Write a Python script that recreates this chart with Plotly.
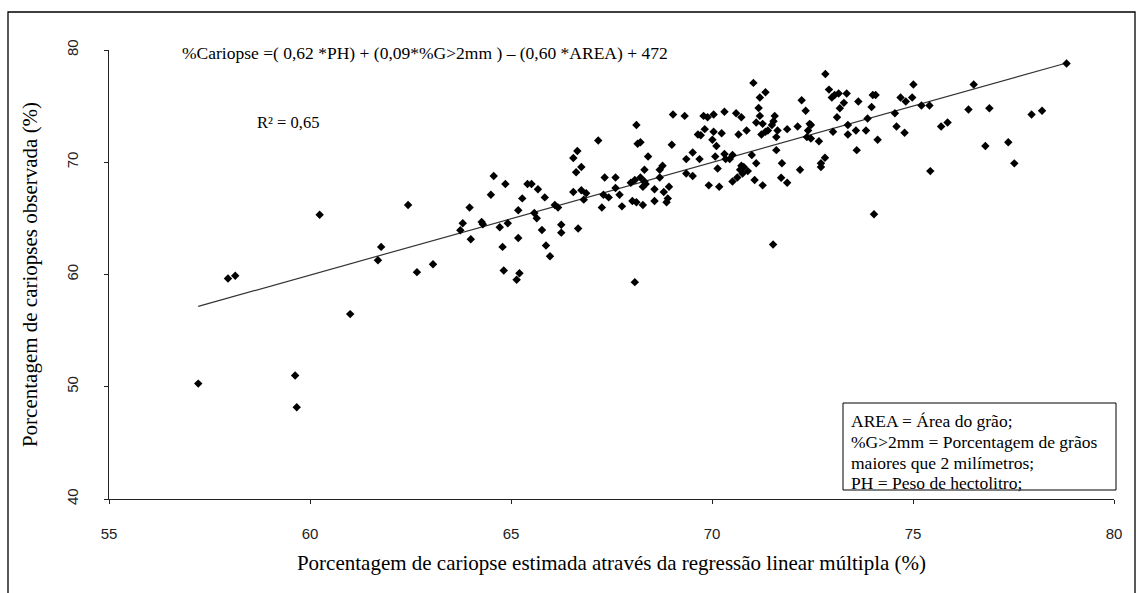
import plotly.graph_objects as go

# Estimated (x) vs observed (y) caryopsis percentage
x_est = [57.22, 57.96, 58.14, 59.63, 59.67, 60.24, 61.00, 61.69, 61.77, 62.44, 62.66, 63.06,
         63.74, 63.80, 63.97, 64.00, 64.27, 64.30, 64.50, 64.57, 64.72, 64.79, 64.82, 64.86,
         64.92, 65.14, 65.21, 65.18, 65.18, 65.28, 65.41, 65.51, 65.58, 65.64, 65.67, 65.77,
         65.84, 65.87, 65.97, 66.09, 66.17, 66.25, 66.25, 66.55, 66.55, 66.65, 66.62, 66.67,
         66.75, 66.75, 66.81, 66.87, 67.17, 67.26, 67.30, 67.33, 67.43, 67.60, 67.60, 67.70,
         67.76, 67.98, 68.02, 68.08, 68.12, 68.12, 68.15, 68.22, 68.22, 68.28, 68.28, 68.32,
         68.32, 68.35, 68.41, 68.08, 68.57, 68.57, 68.70, 68.70, 68.77, 68.80, 68.87, 68.90,
         68.93, 69.00, 69.03, 69.32, 69.36, 69.36, 69.52, 69.52, 69.65, 69.72, 69.69, 69.79,
         69.82, 69.89, 69.92, 70.01, 70.04, 70.04, 70.08, 70.11, 70.14, 70.18, 70.24, 70.31,
         70.31, 70.34, 70.44, 70.51, 70.51, 70.60, 70.63, 70.66, 70.70, 70.73, 70.73, 70.76,
         70.79, 70.86, 70.89, 70.99, 71.06, 71.10, 71.10, 71.03, 71.16, 71.19, 71.33, 71.19,
         71.23, 71.26, 71.26, 71.33, 71.39, 71.49, 71.53, 71.56, 71.60, 71.60, 71.52, 71.63,
         72.82, 72.91, 72.98, 73.05, 73.15, 73.35, 73.28, 73.18, 73.11, 72.23, 72.33, 72.43,
         72.46, 72.39, 72.36, 72.46, 72.66, 72.13, 71.87, 71.74, 71.72, 71.87, 72.19, 72.71,
         72.71, 72.81, 73.01, 73.38, 73.38, 73.58, 73.60, 73.64, 73.83, 73.87, 73.97, 74.00,
         74.07, 74.12, 74.03, 74.55, 74.59, 74.69, 74.79, 74.82, 74.98, 75.01, 75.21, 75.41,
         75.43, 75.70, 75.86, 76.38, 76.51, 76.80, 76.90, 77.37, 77.52, 77.95, 78.21, 78.82]
y_obs = [50.28, 59.64, 59.88, 51.00, 48.18, 65.33, 56.47, 61.27, 62.46, 66.19, 60.21, 60.92,
         63.94, 64.56, 65.96, 63.14, 64.68, 64.47, 67.11, 68.77, 64.21, 62.46, 60.36, 68.06,
         64.56, 59.53, 60.12, 63.26, 65.72, 66.78, 68.06, 68.06, 65.48, 65.01, 67.59, 63.97,
         66.87, 62.58, 61.63, 66.19, 65.96, 64.44, 63.73, 67.35, 70.37, 71.00, 69.10, 64.09,
         69.57, 67.50, 66.67, 67.23, 71.94, 65.96, 67.11, 68.65, 66.87, 67.71, 68.65, 67.11,
         66.07, 68.18, 66.55, 68.41, 73.31, 66.43, 71.64, 71.79, 68.65, 67.82, 66.19, 69.33,
         68.29, 68.06, 70.52, 59.32, 67.59, 66.55, 69.33, 68.65, 69.69, 67.35, 66.43, 66.78,
         67.82, 71.56, 74.25, 74.13, 70.28, 69.00, 70.87, 68.77, 72.47, 72.40, 70.28, 74.13,
         72.95, 74.01, 67.94, 72.00, 74.25, 72.71, 70.52, 71.44, 69.45, 67.82, 72.59, 74.49,
         70.73, 70.28, 70.28, 70.64, 68.29, 74.37, 68.65, 72.47, 69.33, 74.01, 69.69, 69.00,
         69.57, 72.83, 69.21, 70.64, 68.41, 73.54, 69.92, 77.07, 74.84, 75.76, 76.24, 74.13,
         72.47, 67.94, 73.42, 72.71, 72.83, 73.31, 73.66, 74.13, 72.24, 71.08, 62.67, 72.83,
         77.87, 76.47, 75.76, 76.00, 76.12, 76.12, 75.29, 74.81, 74.01, 75.53, 74.58, 73.42,
         73.31, 72.83, 72.24, 72.12, 71.88, 73.18, 72.95, 69.92, 68.62, 68.18, 69.33, 69.92,
         69.57, 70.40, 72.71, 73.31, 72.47, 72.83, 71.08, 75.41, 72.83, 73.90, 74.93, 76.00,
         76.00, 72.00, 65.36, 74.37, 73.18, 75.76, 72.62, 75.41, 75.76, 76.92, 75.05, 75.05,
         69.21, 73.18, 73.54, 74.70, 76.92, 71.44, 74.81, 71.79, 69.90, 74.25, 74.58, 78.79]

# Regression line end points
trend_x = [57.22, 78.82]
trend_y = [57.16, 78.84]

x_ticks = [55, 60, 65, 70, 75, 80]
y_ticks = [40, 50, 60, 70, 80]

equation_text = "%Cariopse =( 0,62 *PH) + (0,09*%G>2mm ) \u2013 (0,60 *AREA) + 472"
r2_text = "R\u00b2 = 0,65"
legend_lines = ["AREA = \u00c1rea do gr\u00e3o;",
                "%G>2mm = Porcentagem de gr\u00e3os",
                "maiores que 2 mil\u00edmetros;",
                "PH = Peso de hectolitro;"]

W, H = 1143, 593
L, R, T, B = 109, 1114, 50, 499  # plot area in pixels


def px(x):
    return (x - L) / (R - L)


def py(y):
    return (B - y) / (B - T)


serif = "Liberation Serif, Times New Roman, serif"
sans = "Liberation Sans, Arial, sans-serif"

fig = go.Figure()
fig.add_trace(go.Scatter(x=trend_x, y=trend_y, mode="lines",
                         line=dict(color="#333333", width=1.2),
                         showlegend=False, hoverinfo="skip"))
fig.add_trace(go.Scatter(x=x_est, y=y_obs, mode="markers",
                         marker=dict(symbol="diamond", size=6.5, color="black",
                                     line=dict(width=0)),
                         showlegend=False))

annotations = [
    dict(text=equation_text, x=px(180), y=py(53), xanchor="left", yanchor="middle",
         font=dict(family=serif, size=17.5, color="black")),
    dict(text=r2_text, x=px(255), y=py(122), xanchor="left", yanchor="middle",
         font=dict(family=serif, size=16.5, color="black")),
]
for txt, yy in zip(legend_lines, [421, 442, 463, 483]):
    annotations.append(dict(text=txt, x=px(849), y=py(yy), xanchor="left", yanchor="middle",
                            font=dict(family=serif, size=17.5, color="black")))
for a in annotations:
    a.update(xref="paper", yref="paper", showarrow=False)

shapes = [
    dict(type="rect", xref="paper", yref="paper", x0=px(843), x1=px(1116), y0=py(490), y1=py(403),
         line=dict(color="black", width=1), fillcolor="white", layer="below"),
    dict(type="rect", xref="paper", yref="paper", x0=px(8), x1=px(1135), y0=py(600), y1=py(12),
         line=dict(color="black", width=1.3), fillcolor="rgba(0,0,0,0)"),
]

fig.update_layout(
    width=W, height=H,
    margin=dict(l=L, r=W - R, t=T, b=H - B),
    plot_bgcolor="white", paper_bgcolor="white",
    annotations=annotations, shapes=shapes,
    xaxis=dict(range=[55, 80], tickvals=x_ticks, showgrid=False, zeroline=False,
               showline=True, linecolor="#222222", linewidth=1.2,
               ticks="outside", ticklen=4, tickcolor="#222222",
               tickfont=dict(family=sans, size=15, color="#222222"),
               ticklabelstandoff=17,
               title=dict(text="Porcentagem de cariopse estimada atrav\u00e9s da regress\u00e3o linear m\u00faltipla (%)",
                          font=dict(family=serif, size=21, color="black"), standoff=14)),
    yaxis=dict(range=[40, 80], tickvals=y_ticks, showgrid=False, zeroline=False,
               showline=True, linecolor="#222222", linewidth=1.2,
               ticks="outside", ticklen=4, tickcolor="#222222", tickangle=-90,
               tickfont=dict(family=sans, size=15, color="#222222"),
               ticklabelstandoff=20,
               title=dict(text="Porcentagem de cariopses observada (%)",
                          font=dict(family=serif, size=21, color="black"), standoff=20)),
)

fig.write_html("out.html")
